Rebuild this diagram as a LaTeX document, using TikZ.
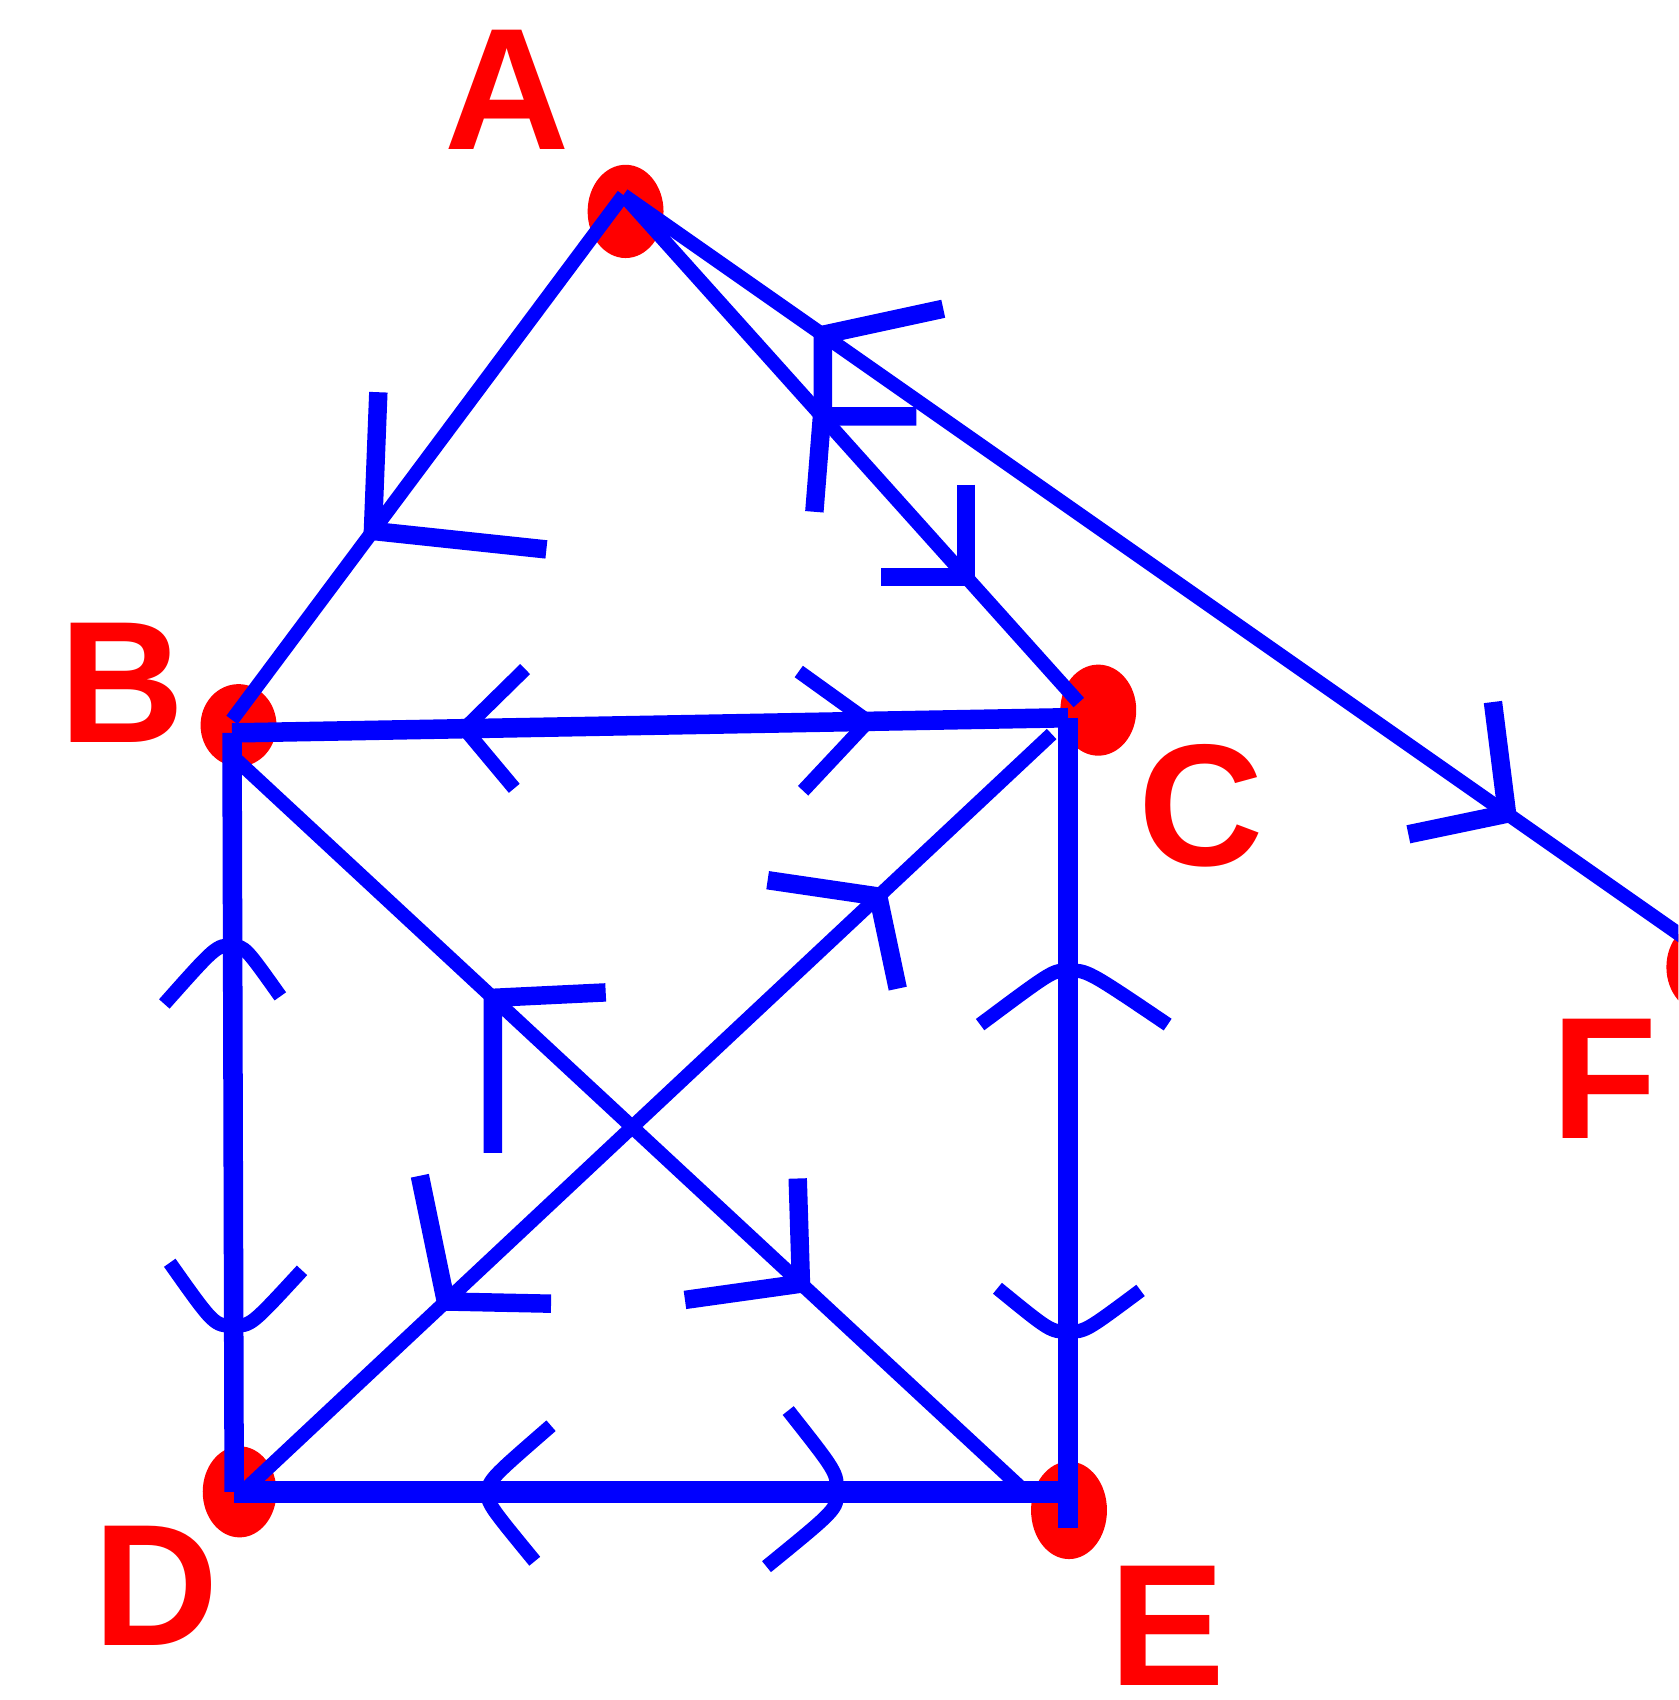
\documentclass[tikz,border=0pt]{standalone}
\usepackage{fontspec}
\setmainfont{Liberation Sans}
\usetikzlibrary{calc,shapes.geometric}
\begin{document}
\begin{tikzpicture}[x=0.5pt,y=-0.5pt,
  edge/.style={draw=blue, line width=6.5pt},
  hvedge/.style={draw=blue, line width=9pt},
  wing/.style={draw=blue, line width=8.5pt, line join=miter},
  arm/.style={draw=blue, line width=6.5pt},
  dot/.style={ellipse, fill=red, inner sep=0pt},
  lbl/.style={text=red, inner sep=0pt, font=\fontsize{80}{80}\selectfont\bfseries}]
\useasboundingbox (0,0) rectangle (1548,1568);
\clip (0,0) rectangle (1548,1568);
\fill[white] (0,0) rectangle (1548,1568);

% red dots
\node[dot, minimum width=35pt, minimum height=43pt] (dA) at (577,195) {};
\node[dot, minimum width=35pt, minimum height=38pt] (dB) at (220,669) {};
\node[dot, minimum width=35pt, minimum height=42pt] (dC) at (1013,655) {};
\node[dot, minimum width=34pt, minimum height=42pt] (dD) at (221,1376) {};
\node[dot, minimum width=35pt, minimum height=45pt] (dE) at (986,1393) {};
\node[dot, minimum width=35pt, minimum height=42pt] (dF) at (1572,892) {};

% junctions
\coordinate (A) at (575,180);
\coordinate (B) at (214,676);
\coordinate (C) at (985,662);
\coordinate (D) at (216,1376);
\coordinate (E) at (985,1376);
\coordinate (F) at (1575,880);

% edges
\draw[edge] (A) -- ([shift={(0,-12)}]B) coordinate[pos=0.64] (tAB);
\draw[edge] (A) -- ([shift={(10,-14)}]C) coordinate[pos=0.436] (tAC1) coordinate[pos=0.752] (tAC2);
\draw[edge] (A) -- (F) coordinate[pos=0.184] (tAF1) coordinate[pos=0.815] (tAF2);
\draw[hvedge] (B) -- (C) coordinate[pos=0.278] (tBC1) coordinate[pos=0.761] (tBC2);
\draw[hvedge] (B) -- (D) coordinate[pos=0.28] (tBD1) coordinate[pos=0.781] (tBD2);
\draw[hvedge] (C) -- ([shift={(0,33)}]E) coordinate[pos=0.312] (tCE1) coordinate[pos=0.758] (tCE2);
\draw[hvedge, line width=10pt] (D) -- (E) coordinate[pos=0.302] (tDE1) coordinate[pos=0.723] (tDE2);
\draw[edge] ([shift={(0,21)}]B) -- ([shift={(-35,4)}]E) coordinate[pos=0.327] (tBE1) coordinate[pos=0.713] (tBE2);
\draw[edge] ([shift={(-15,15)}]C) -- ([shift={(10,-2)}]D) coordinate[pos=0.215] (tCD1) coordinate[pos=0.751] (tCD2);

% arrowheads on slanted edges
\draw[wing] ([shift={(5,-128)}]tAB) -- (tAB) -- ++(160,17);
\draw[wing] ([shift={(87,0)}]tAC1) -- (tAC1) -- ++(-7,88);
\draw[wing] ([shift={(0,-85)}]tAC2) -- (tAC2) -- ++(-78,0);
\draw[wing] ([shift={(111,-24)}]tAF1) -- (tAF1) -- ++(0,80);
\draw[wing] ([shift={(-13,-103)}]tAF2) -- (tAF2) -- ++(-91,19);
\draw[wing] ([shift={(104,-5)}]tBE1) -- (tBE1) -- ++(0,143);
\draw[wing] ([shift={(-3,-97)}]tBE2) -- (tBE2) -- ++(-107,15);
\draw[wing] ([shift={(-102,-15)}]tCD1) -- (tCD1) -- ++(18,85);
\draw[wing] ([shift={(-24,-116)}]tCD2) -- (tCD2) -- ++(97,2);

% arrowheads on horizontal and vertical edges
\draw[arm] ([shift={(56,-55)}]tBC1) -- (tBC1) -- ++(46,55);
\draw[arm] ([shift={(-64,-46)}]tBC2) -- (tBC2) -- ++(-60,64);
\draw[arm] ([shift={(-63,54)}]tBD1) .. controls ([shift={(-15,0)}]tBD1) .. (tBD1)
  .. controls ([shift={(12,2)}]tBD1) .. ([shift={(44,47)}]tBD1);
\draw[arm] ([shift={(-59,-58)}]tBD2) .. controls ([shift={(-18,0)}]tBD2) .. (tBD2)
  .. controls ([shift={(16,0)}]tBD2) .. ([shift={(63,-51)}]tBD2);
\draw[arm] ([shift={(-81,50)}]tCE1) .. controls ([shift={(-14,0)}]tCE1) .. (tCE1)
  .. controls ([shift={(18,0)}]tCE1) .. ([shift={(92,50)}]tCE1);
\draw[arm] ([shift={(-65,-40)}]tCE2) .. controls ([shift={(-16,0)}]tCE2) .. (tCE2)
  .. controls ([shift={(16,0)}]tCE2) .. ([shift={(67,-38)}]tCE2);
\draw[arm] ([shift={(60,-61)}]tDE1) .. controls ([shift={(6,-14)}]tDE1) .. (tDE1)
  .. controls ([shift={(4,14)}]tDE1) .. ([shift={(45,64)}]tDE1);
\draw[arm] ([shift={(-45,-75)}]tDE2) .. controls ([shift={(0,-18)}]tDE2) .. (tDE2)
  .. controls ([shift={(0,16)}]tDE2) .. ([shift={(-65,69)}]tDE2);

% labels
\node[lbl] (lA) at (468,83) {A};
\node[lbl] (lB) at (113,630) {B};
\node[lbl] (lC) at (1108,743) {C};
\node[lbl] (lD) at (144,1463) {D};
\node[lbl] (lE) at (1077,1500) {E};
\node[lbl] (lF) at (1480,995) {F};
\end{tikzpicture}
\end{document}
